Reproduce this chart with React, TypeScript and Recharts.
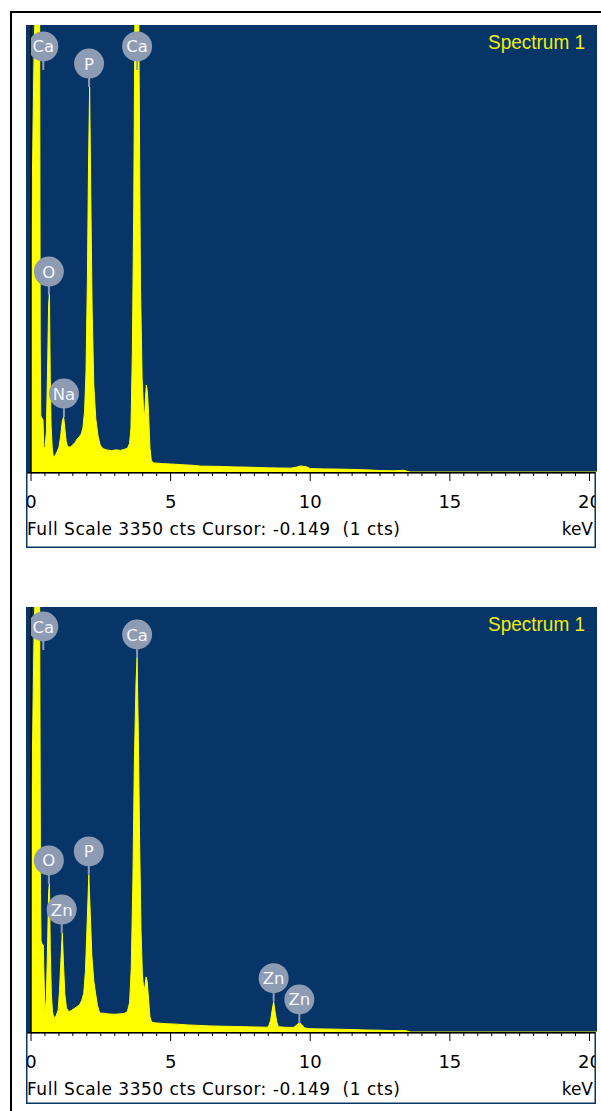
import React from "react";
import { Area, ComposedChart, ReferenceLine, Scatter, XAxis, YAxis } from "recharts";

const FONT = '"DejaVu Sans", Verdana, sans-serif';
const NAVY = "#083567";
const YELLOW = "#FFFF00";
const MARKER = "#8D9BB3";
const FULL_SCALE = 3350;
const KEV_MAX = 20.27;

// energy axis ticks (keV)
const tickKev = [
  0, 0.5, 1, 1.5, 2, 2.5, 3, 3.5, 4, 4.5, 5, 5.5, 6, 6.5, 7, 7.5, 8, 8.5, 9, 9.5, 10,
  10.5, 11, 11.5, 12, 12.5, 13, 13.5, 14, 14.5, 15, 15.5, 16, 16.5, 17, 17.5, 18, 18.5, 19, 19.5, 20,
];
const tickLabels = [0, 5, 10, 15, 20];

// spectrum 1 (top)
const spectrum1Kev = [
  0, 0.04, 0.1, 0.14, 0.23, 0.31, 0.33, 0.35, 0.39, 0.43, 0.46, 0.5, 0.55, 0.6, 0.63, 0.66, 0.69, 0.72,
  0.76, 0.8, 0.86, 0.93, 1.0, 1.06, 1.12, 1.17, 1.21, 1.26, 1.31, 1.41, 1.5, 1.58, 1.66, 1.73, 1.8, 1.86,
  1.92, 1.97, 2.02, 2.06, 2.1, 2.14, 2.19, 2.25, 2.32, 2.4, 2.48, 2.58, 2.72, 2.88, 3.04, 3.2, 3.35, 3.46,
  3.53, 3.58, 3.63, 3.68, 3.72, 3.79, 3.86, 3.92, 3.98, 4.03, 4.07, 4.1, 4.13, 4.17, 4.21, 4.26, 4.31, 4.4,
  4.7, 5.0, 5.4, 5.8, 6.1, 6.5, 6.9, 7.3, 7.7, 8.1, 8.5, 8.9, 9.3, 9.5, 9.65, 9.85, 10.0, 10.5, 11.0, 11.5,
  12.0, 12.5, 13.0, 13.35, 13.5, 13.6, 20.3,
];
const spectrum1Counts = [
  1400, 2040, 3000, 3400, 5200, 3400, 1000, 420, 405, 390, 190, 175, 300, 850, 1250, 1341, 700, 350,
  180, 112, 120, 150, 185, 265, 380, 412, 330, 230, 190, 187, 205, 222, 250, 265, 285, 330,
  460, 750, 1450, 2300, 2885, 2100, 1200, 650, 400, 270, 200, 175, 165, 160, 166, 162, 170, 180,
  215, 330, 900, 2000, 3400, 6000, 3400, 1400, 700, 470, 415, 560, 652, 600, 440, 180, 85, 68,
  63, 60, 55, 50, 44, 43, 41, 38, 37, 34, 31, 30, 29, 36, 45, 40, 26, 23, 22, 19,
  16, 11, 9, 13, 4, 0, 0,
];
const peaks1El = ["Ca", "P", "Ca", "O", "Na"];
const peaks1Kev = [0.44, 2.08, 3.8, 0.64, 1.18];
const peaks1Counts = [3013, 2885, 3013, 1326, 412];

// spectrum 2 (bottom)
const spectrum2Kev = [
  0, 0.04, 0.1, 0.14, 0.23, 0.31, 0.34, 0.36, 0.4, 0.44, 0.47, 0.5, 0.55, 0.6, 0.63, 0.66, 0.69, 0.73,
  0.77, 0.82, 0.9, 0.97, 1.02, 1.07, 1.12, 1.16, 1.21, 1.27, 1.35, 1.45, 1.55, 1.65, 1.74, 1.82, 1.89,
  1.95, 2.01, 2.07, 2.12, 2.18, 2.25, 2.31, 2.38, 2.46, 2.6, 2.8, 3.0, 3.2, 3.35, 3.45, 3.53, 3.59, 3.65,
  3.7, 3.76, 3.8, 3.84, 3.89, 3.94, 3.99, 4.04, 4.08, 4.12, 4.16, 4.21, 4.26, 4.32, 4.45, 4.8, 5.2, 5.6,
  6.0, 6.4, 6.8, 7.2, 7.6, 8.0, 8.4, 8.5, 8.58, 8.65, 8.69, 8.74, 8.8, 8.86, 9.1, 9.4, 9.48, 9.56, 9.62,
  9.7, 9.8, 10.0, 10.5, 11.0, 11.5, 12.0, 12.5, 13.0, 13.4, 13.6, 20.3,
];
const spectrum2Counts = [
  1400, 2000, 3000, 3400, 5200, 3400, 1100, 720, 690, 686, 400, 150, 260, 750, 1100, 1174, 650, 300,
  160, 110, 130, 170, 320, 560, 780, 560, 300, 190, 160, 170, 185, 200, 215, 250, 307,
  480, 850, 1237, 950, 600, 400, 307, 210, 150, 148, 142, 140, 143, 148, 160, 230, 500, 1200,
  2100, 2750, 2950, 2400, 1500, 800, 450, 330, 360, 434, 400, 260, 120, 78, 72, 66, 62, 56,
  52, 48, 46, 44, 42, 40, 38, 40, 90, 190, 239, 160, 80, 42, 37, 36, 48, 66, 71,
  58, 32, 26, 24, 22, 19, 16, 14, 10, 12, 0, 0,
];
const peaks2El = ["Ca", "Ca", "O", "P", "Zn", "Zn", "Zn"];
const peaks2Kev = [0.44, 3.8, 0.64, 2.07, 1.1, 8.69, 9.61];
const peaks2Counts = [3011, 2948, 1167, 1238, 780, 239, 71];

const toData = (kev: number[], cts: number[]) => kev.map((k, i) => ({ kev: k, cts: cts[i] }));
const toPeaks = (el: string[], kev: number[], cts: number[]) =>
  el.map((e, i) => ({ el: e, kev: kev[i], cts: cts[i] }));

function PeakMarker(props: any) {
  const { cx, cy, payload } = props;
  if (cx == null || cy == null) return null;
  const c = cy - 23.5;
  return (
    <g>
      <rect x={cx - 1} y={c + 13} width={2} height={cy - c - 13} fill={MARKER} />
      <circle cx={cx} cy={c} r={15} fill={MARKER} />
      <text x={cx} y={c + 6} textAnchor="middle" fontFamily={FONT} fontSize={16.5} fill="#F4F6FA">
        {payload.el}
      </text>
    </g>
  );
}

function EnergyTick(props: any) {
  const { x, y, payload } = props;
  const v = payload.value;
  const major = tickLabels.includes(v);
  return (
    <g>
      <line x1={x} x2={x} y1={y} y2={y + (major ? 9 : 4)} stroke="#000" strokeWidth={1} />
      {major && (
        <text x={x} y={y + 36} textAnchor="middle" fontFamily={FONT} fontSize={18} fill="#000">
          {v}
        </text>
      )}
    </g>
  );
}

type PanelProps = {
  top: number;
  axisY: number;
  data: { kev: number; cts: number }[];
  peaks: { el: string; kev: number; cts: number }[];
};

function SpectrumChart({ top, axisY, data, peaks }: PanelProps) {
  const plotH = axisY - top;
  return (
    <div style={{ position: "absolute", left: 11, top }}>
      <ComposedChart width={590} height={plotH + 45} margin={{ top: 0, right: 4, bottom: 0, left: 20 }}>
        <XAxis
          type="number"
          dataKey="kev"
          domain={[0, KEV_MAX]}
          allowDataOverflow
          ticks={tickKev}
          interval={0}
          tick={(p: any) => <EnergyTick {...p} />}
          tickSize={0}
          tickMargin={0}
          tickLine={false}
          axisLine={false}
          height={45}
        />
        <YAxis type="number" dataKey="cts" domain={[0, FULL_SCALE]} allowDataOverflow hide />
        <Area
          data={data}
          dataKey="cts"
          type="linear"
          stroke={YELLOW}
          strokeWidth={1}
          fill={YELLOW}
          fillOpacity={1}
          dot={false}
          activeDot={false}
          isAnimationActive={false}
        />
        <ReferenceLine x={0} stroke="#111" strokeWidth={1.5} />
        <Scatter data={peaks} shape={(p: any) => <PeakMarker {...p} />} isAnimationActive={false} />
      </ComposedChart>
    </div>
  );
}

const panels = [
  { top: 25, axisY: 472, bottom: 548, data: toData(spectrum1Kev, spectrum1Counts), peaks: toPeaks(peaks1El, peaks1Kev, peaks1Counts) },
  { top: 607, axisY: 1032, bottom: 1104, data: toData(spectrum2Kev, spectrum2Counts), peaks: toPeaks(peaks2El, peaks2Kev, peaks2Counts) },
];

export default function App() {
  return (
    <div
      style={{ position: "absolute", left: 0, top: 0, width: 601, height: 1111, overflow: "hidden", background: "#fff" }}
    >
      {panels.map((p, i) => (
        <React.Fragment key={i}>
          <div style={{ position: "absolute", left: 26, top: p.top, width: 571, height: p.axisY - p.top, background: NAVY }} />
          <SpectrumChart top={p.top} axisY={p.axisY} data={p.data} peaks={p.peaks} />
        </React.Fragment>
      ))}
      <svg width={601} height={1111} style={{ position: "absolute", left: 0, top: 0, pointerEvents: "none" }}>
        <rect x={10} y={11} width={591} height={2} fill="#000" />
        <rect x={10} y={11} width={2} height={1100} fill="#000" />
        {panels.map((p, i) => (
          <g key={i}>
            <rect x={13} y={p.axisY + 1} width={13} height={p.bottom - p.axisY} fill="#fff" />
            <rect x={596} y={p.axisY + 1} width={5} height={p.bottom - p.axisY} fill="#fff" />
            <rect x={26} y={p.axisY} width={570} height={1.6} fill="#000" />
            <rect x={26} y={p.axisY} width={1.5} height={p.bottom - p.axisY} fill={NAVY} />
            <rect x={594.5} y={p.axisY} width={1.5} height={p.bottom - p.axisY} fill={NAVY} />
            <rect x={26} y={p.bottom - 1.5} width={570} height={1.5} fill={NAVY} />
            <text
              x={585}
              y={p.top + 24}
              textAnchor="end"
              fontFamily="'Liberation Sans', Arial, sans-serif"
              fontSize={20}
              textLength={97}
              lengthAdjust="spacingAndGlyphs"
              fill="#EDED10"
            >
              Spectrum 1
            </text>
            <text
              x={27}
              y={p.axisY + 63}
              fontFamily={FONT}
              fontSize={17}
              textLength={373}
              lengthAdjust="spacing"
              fill="#000"
              style={{ whiteSpace: "pre" }}
            >
              {"Full Scale 3350 cts Cursor: -0.149  (1 cts)"}
            </text>
            <text x={593} y={p.axisY + 63} textAnchor="end" fontFamily={FONT} fontSize={17} fill="#000">
              keV
            </text>
          </g>
        ))}
      </svg>
    </div>
  );
}
